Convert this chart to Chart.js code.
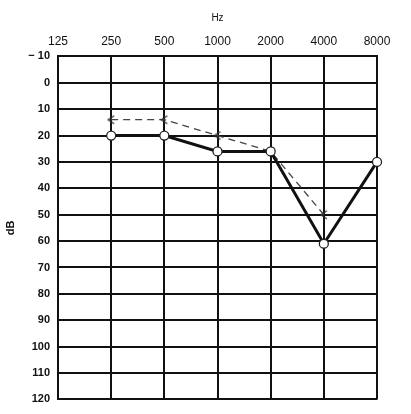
<!DOCTYPE html>
<html><head><meta charset="utf-8">
<script src="https://cdn.jsdelivr.net/npm/chart.js@4.4.0/dist/chart.umd.min.js"></script>
<style>body{margin:0;background:#fff}#wrap{width:411px;height:414px}</style>
</head><body><div id="wrap"><canvas id="c"></canvas></div>
<script>
const freqs = ['125', '250', '500', '1000', '2000', '4000', '8000'];
const airDb = [null, 20, 20, 26, 26, 61, 30];
const boneDb = [null, 14, 14, 20, 26, 50, null];
const yTicks = [-10, 0, 10, 20, 30, 40, 50, 60, 70, 80, 90, 100, 110, 120];

const bonePoint = document.createElement('canvas');
bonePoint.width = 12; bonePoint.height = 12;
const bctx = bonePoint.getContext('2d');
bctx.strokeStyle = '#333'; bctx.lineWidth = 1.3;
bctx.beginPath(); bctx.moveTo(9, 2); bctx.lineTo(3, 6); bctx.lineTo(9, 10); bctx.stroke();

new Chart(document.getElementById('c'), {
  type: 'line',
  data: {
    labels: freqs,
    datasets: [{
      label: 'Air',
      data: airDb,
      borderColor: '#111',
      borderWidth: 3,
      pointStyle: 'circle',
      pointRadius: 4.5,
      pointBorderWidth: 1.3,
      pointBorderColor: '#222',
      pointBackgroundColor: '#fff',
      tension: 0
    }, {
      label: 'Bone',
      data: boneDb,
      borderColor: '#444',
      borderWidth: 1.3,
      borderDash: [7, 5],
      pointStyle: bonePoint,
      tension: 0
    }]
  },
  options: {
    responsive: true,
    maintainAspectRatio: false,
    animation: false,
    layout: { padding: { top: 12, right: 34, bottom: 12, left: 4 } },
    plugins: { legend: { display: false }, tooltip: { enabled: false } },
    scales: {
      x: {
        position: 'top',
        offset: false,
        grid: { color: '#111', lineWidth: 2, drawTicks: false },
        border: { color: '#111', width: 2 },
        ticks: { color: '#111', font: { family: 'Liberation Sans', size: 12 }, padding: 8, maxRotation: 0 },
        title: { display: true, text: 'Hz', color: '#111', font: { family: 'Liberation Sans', size: 10 }, padding: { top: 0, bottom: 2 } }
      },
      y: {
        reverse: true,
        min: -10, max: 120,
        afterBuildTicks: s => { s.ticks = yTicks.map(v => ({ value: v })); },
        afterFit: s => { s.width = 54; },
        grid: { color: '#111', lineWidth: 2, drawTicks: false },
        border: { color: '#111', width: 2 },
        ticks: {
          color: '#111', font: { family: 'Liberation Sans', size: 11, weight: 'bold' }, padding: 8,
          callback: v => v < 0 ? '\u2212 ' + Math.abs(v) : String(v)
        },
        title: { display: true, text: 'dB', color: '#111', font: { family: 'Liberation Sans', size: 11, weight: 'bold' }, padding: 0 }
      }
    }
  }
});
</script></body></html>
